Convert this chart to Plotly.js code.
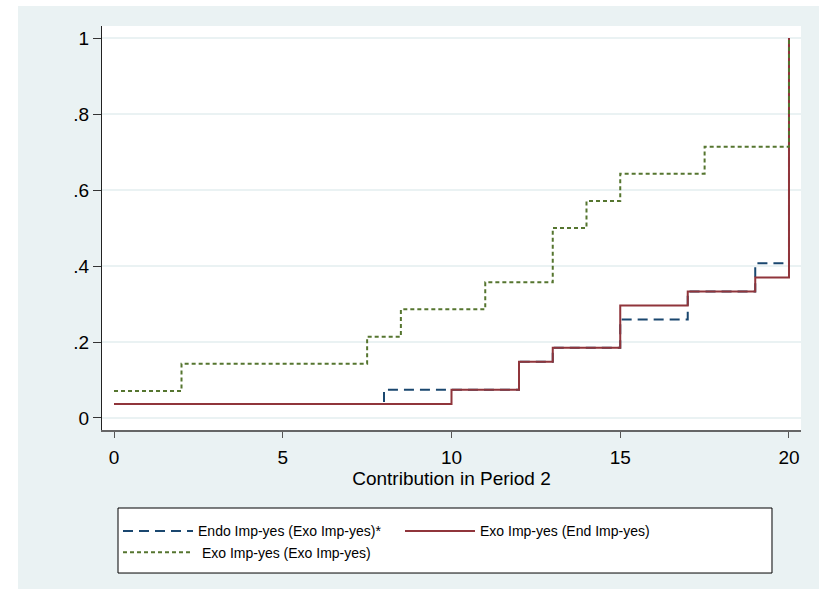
<!DOCTYPE html>
<html>
<head>
<meta charset="utf-8">
<script src="https://cdn.plot.ly/plotly-3.0.1.min.js"></script>
<style>
  html, body { margin: 0; padding: 0; background: #ffffff; }
  #chart { position: absolute; left: 18px; top: 6px; width: 801px; height: 583px; }
</style>
</head>
<body>
<div id="chart"></div>
<script>
// Step data (contribution -> cumulative share)
const endoX = [0, 8, 12, 13, 15, 17, 19, 20];
const endoY = [0.037, 0.074, 0.148, 0.185, 0.259, 0.333, 0.407, 1];

const exoEndX = [0, 10, 12, 13, 15, 17, 19, 20];
const exoEndY = [0.037, 0.074, 0.148, 0.185, 0.296, 0.333, 0.370, 1];

const exoExoX = [0, 2, 7.5, 8.5, 11, 13, 14, 15, 17.5, 20];
const exoExoY = [0.071, 0.143, 0.214, 0.286, 0.357, 0.5, 0.571, 0.643, 0.714, 1];

const seriesNames = ["Endo Imp-yes (Exo Imp-yes)*", "Exo Imp-yes (End Imp-yes)", " Exo Imp-yes (Exo Imp-yes)"];

const xTickVals = [0, 5, 10, 15, 20];
const yTickVals = [0, 0.2, 0.4, 0.6, 0.8, 1];
const yTickText = ["0", ".2", ".4", ".6", ".8", "1"];

const FONT = "Liberation Sans, Arial, sans-serif";
const BG = "#eaf2f3";

const traces = [
  { x: endoX, y: endoY, name: seriesNames[0], type: "scatter", mode: "lines",
    line: { shape: "hv", color: "#1a476f", width: 2, dash: "10px,6px" } },
  { x: exoEndX, y: exoEndY, name: seriesNames[1], type: "scatter", mode: "lines",
    line: { shape: "hv", color: "#90353b", width: 2 } },
  { x: exoExoX, y: exoExoY, name: seriesNames[2], type: "scatter", mode: "lines",
    line: { shape: "hv", color: "#55752f", width: 2, dash: "4px,3px" } }
];

const layout = {
  width: 801, height: 583,
  margin: { l: 84, r: 18, t: 20, b: 159 },
  paper_bgcolor: BG,
  plot_bgcolor: "#ffffff",
  font: { family: FONT, color: "#000000", size: 15 },
  showlegend: true,
  xaxis: {
    range: [-0.356, 20.356],
    tickvals: xTickVals,
    ticks: "outside", ticklen: 6, tickcolor: "#555555", tickwidth: 1,
    ticklabelstandoff: 3,
    showgrid: false, zeroline: false,
    showline: true, linecolor: "#666666", linewidth: 2,
    tickfont: { family: FONT, size: 19, color: "#000000" },
    title: { text: "Contribution in Period 2", font: { family: FONT, size: 19, color: "#000000" }, standoff: 5 },
    automargin: false
  },
  yaxis: {
    range: [-0.0316, 1.0316],
    tickvals: yTickVals, ticktext: yTickText,
    ticks: "outside", ticklen: 8, tickcolor: "#333333", tickwidth: 1,
    showgrid: true, gridcolor: BG, gridwidth: 1.5,
    zeroline: false,
    showline: true, linecolor: "#222222", linewidth: 1.2,
    tickfont: { family: FONT, size: 19, color: "#000000" },
    automargin: false
  },
  legend: {
    orientation: "h",
    x: 0.0229, xanchor: "left",
    y: -0.2113, yanchor: "top",
    bgcolor: "rgba(0,0,0,0)", borderwidth: 0,
    font: { family: FONT, size: 14, color: "#000000" },
    entrywidth: 197, entrywidthmode: "pixels",
    itemwidth: 70,
    traceorder: "normal"
  },
  shapes: [
    { type: "rect", xref: "paper", yref: "paper",
      x0: 0.0229, x1: 0.9585, y0: -0.354, y1: -0.1931,
      fillcolor: "#ffffff", line: { color: "#000000", width: 1 }, layer: "above" }
  ]
};

Plotly.newPlot("chart", traces, layout, { displayModeBar: false, staticPlot: true });
</script>
</body>
</html>
